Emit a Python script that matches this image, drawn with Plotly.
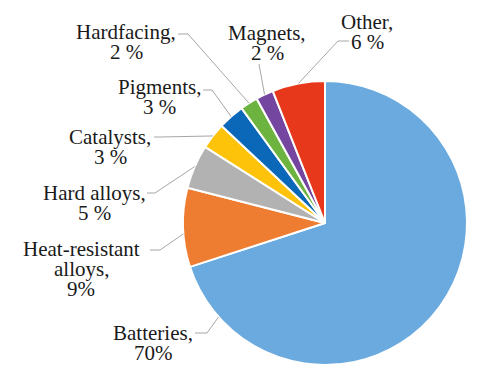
import math
import plotly.graph_objects as go

# ---- data ----
categories = ["Batteries", "Heat-resistant alloys", "Hard alloys", "Catalysts",
              "Pigments", "Hardfacing", "Magnets", "Other"]
values = [70, 9, 5, 3, 3, 2, 2, 6]
pct_labels = ["70%", "9%", "5 %", "3 %", "3 %", "2 %", "2 %", "6 %"]
name_lines = [["Batteries,"], ["Heat-resistant", "alloys,"], ["Hard alloys,"], ["Catalysts,"],
              ["Pigments,"], ["Hardfacing,"], ["Magnets,"], ["Other,"]]
colors = ["#6AAADE", "#EE7D32", "#B2B2B2", "#FDC30A", "#0B67B7", "#6DB33F", "#7446A0", "#E8381C"]

W, H = 478, 373
CX, CY, R = 325, 223, 142

def px(x):
    return x / W

def py(y):
    return 1 - y / H

# label placement (center x, first-line y) and leader elbow points, in pixels
label_pos = [(153, 333), (81, 249), (94, 193), (110, 137),
             (159, 87), (126, 32), (267, 33), (367, 22)]
leader_start = [[(195, 333), (207, 333)], [(150, 250), (160, 250)], [(147, 193), (155, 193)],
                [(154, 137), (160, 137)], [(203, 90), (212, 90)], [(178, 34), (188, 34)],
                [(259, 64)], [(349, 41), (338, 41)]]
# where along each slice's arc the leader line touches (fraction of slice)
leader_frac = [0.907, 0.42, 0.5, 0.5, 0.5, 0.5, 0.5, 0.5]

fig = go.Figure(go.Pie(
    labels=categories, values=values, sort=False, direction="clockwise", rotation=0,
    marker=dict(colors=colors, line=dict(color="white", width=2)),
    textinfo="none", hoverinfo="none", showlegend=False,
    domain=dict(x=[px(CX - R), px(CX + R)], y=[py(CY + R), py(CY - R)]),
))

total = sum(values)
cum = 0
annotations = []
shapes = []
font = dict(family="Liberation Serif, DejaVu Serif, serif", size=21, color="#1a1a1a")
for i, v in enumerate(values):
    ang = (cum + v * leader_frac[i]) / total * 2 * math.pi
    cum += v
    ex = CX + R * math.sin(ang)
    ey = CY - R * math.cos(ang)
    pts = leader_start[i] + [(ex, ey)]
    path = "M " + " L ".join(f"{px(x)},{py(y)}" for x, y in pts)
    shapes.append(dict(type="path", xref="paper", yref="paper", path=path,
                       line=dict(color="#A6A6A6", width=1)))
    lx, ly = label_pos[i]
    lines = name_lines[i] + [pct_labels[i]]
    for k, t in enumerate(lines):
        annotations.append(dict(text=t, x=px(lx), y=py(ly + 20 * k), xref="paper", yref="paper",
                                xanchor="center", yanchor="middle", showarrow=False, font=font))

fig.update_layout(
    width=W, height=H, margin=dict(l=0, r=0, t=0, b=0),
    paper_bgcolor="white", plot_bgcolor="white",
    annotations=annotations, shapes=shapes,
)
fig.write_html("out.html", config={"displayModeBar": False},
               post_script="document.body.style.margin='0';document.body.style.overflow='hidden';")
